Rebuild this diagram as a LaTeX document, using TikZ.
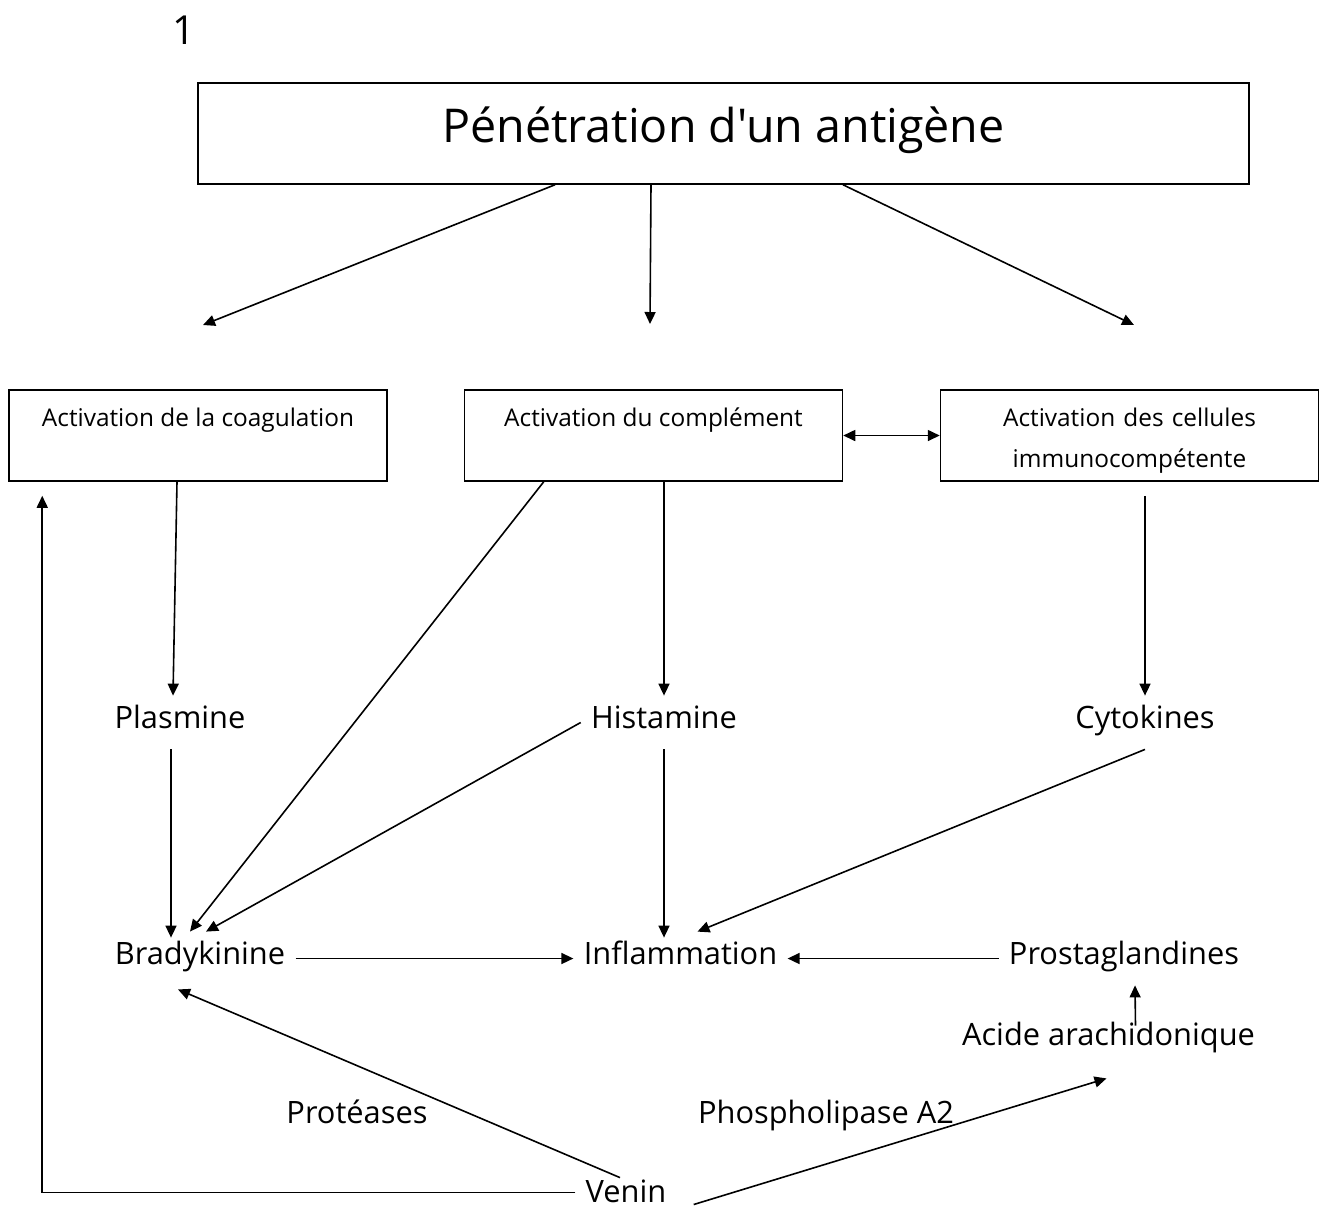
\documentclass[tikz,border=0pt]{standalone}
\usepackage{fontspec}
\setmainfont{Open Sans}[Ligatures=TeXOff]
\usetikzlibrary{arrows.meta,calc}

\begin{document}
\begin{tikzpicture}[x=0.5pt,y=-0.5pt,
  boite/.style={draw,line width=0.75pt,inner sep=0pt,minimum width=189pt,
    text height=18pt,text depth=27.5pt,font=\fontsize{12.2}{14}\selectfont},
  mot/.style={anchor=base,inner xsep=5pt,inner ysep=5pt,text height=11pt,
    text depth=5.5pt,font=\fontsize{15.4}{18}\selectfont},
  fl/.style={line width=0.8pt,-{Triangle[length=6pt,width=5.5pt]}},
  fldouble/.style={line width=0.8pt,
    {Triangle[length=6pt,width=5.5pt]}-{Triangle[length=6pt,width=5.5pt]}}]
\useasboundingbox (0,0) rectangle (1323,1207);

% titre
\node[font=\fontsize{20}{24}\selectfont] (un) at (184,30) {1};
\node[draw,line width=0.75pt,inner sep=0pt,minimum width=525.5pt,
  text height=29.5pt,text depth=21pt,font=\fontsize{23.3}{27}\selectfont]
  (titre) at (723.5,133.5) {Pénétration d'un antigène};

\coordinate (c1) at (203,325);
\coordinate (c2) at (650,324);
\coordinate (c3) at (1134,325);
\draw[fl] ($(titre.south)+(-168.5,0)$) -- (c1);
\draw[fl] ($(titre.south)+(-72.5,0)$) -- (c2);
\draw[fl] ($(titre.south)+(119.5,0)$) -- (c3);

% les trois activations
\node[boite] (coag) at (198,435.5) {Activation de la coagulation};
\node[boite] (compl) at (653.5,435.5) {Activation du complément};
\node[boite,text width=189pt,align=center] (cell) at (1129.5,435.5)
  {Activation des cellules\\[6.5pt]immunocompétente};
\draw[fldouble] (compl.east) -- (cell.west);

% mediateurs
\node[mot] (plas) at (180,728) {Plasmine};
\node[mot] (hist) at (664,728) {Histamine};
\node[mot] (cyto) at (1145,728) {Cytokines};
\node[mot] (brad) at (200,964) {Bradykinine};
\node[mot] (infl) at (680.5,964) {Inflammation};
\node[mot] (prost) at (1124,964) {Prostaglandines};
\node[mot] (acide) at (1108.5,1045) {Acide arachidonique};
\node[mot] (prot) at (357,1123) {Protéases};
\node[mot] (phos) at (826,1123) {Phospholipase A2};
\node[mot] (venin) at (626,1202) {Venin};

\draw[fl] ($(coag.south)+(-21,0)$) -- ($(plas.north)+(-7,0)$);
\draw[fl] (compl.south -| hist) -- (hist.north);
\draw[fl] ($(cell.south -| cyto)+(0,14)$) -- (cyto.north);
\draw[fl] ($(compl.south west)+(80,0)$) -- ($(brad.north)+(-10,0)$);
\draw[fl] ($(plas.south)+(-9,0)$) -- ($(brad.north)+(-29,6)$);
\draw[fl] (hist.west) -- ($(brad.north)+(6,0)$);
\draw[fl] (hist.south) -- ($(hist.south |- infl.north)+(0,6)$);
\draw[fl] (cyto.south) -- ($(infl.north)+(17,0)$);
\draw[fl] (brad.east) -- (infl.west);
\draw[fl] (prost.west) -- (infl.east);
\draw[fl] ($(acide.north)+(27,13)$) -- ($(prost.south)+(11,0)$);

% venin
\draw[fl] ($(venin.north)+(-6,8)$) -- ($(brad.south)+(-22,4)$);
\draw[fl] ($(venin.east)+(17,8)$) -- ($(acide.south)+(-2,12)$);
\draw[fl] ($(venin.west)+(0,-4)$) -| ($(coag.south west)+(34,14)$);
\end{tikzpicture}
\end{document}
